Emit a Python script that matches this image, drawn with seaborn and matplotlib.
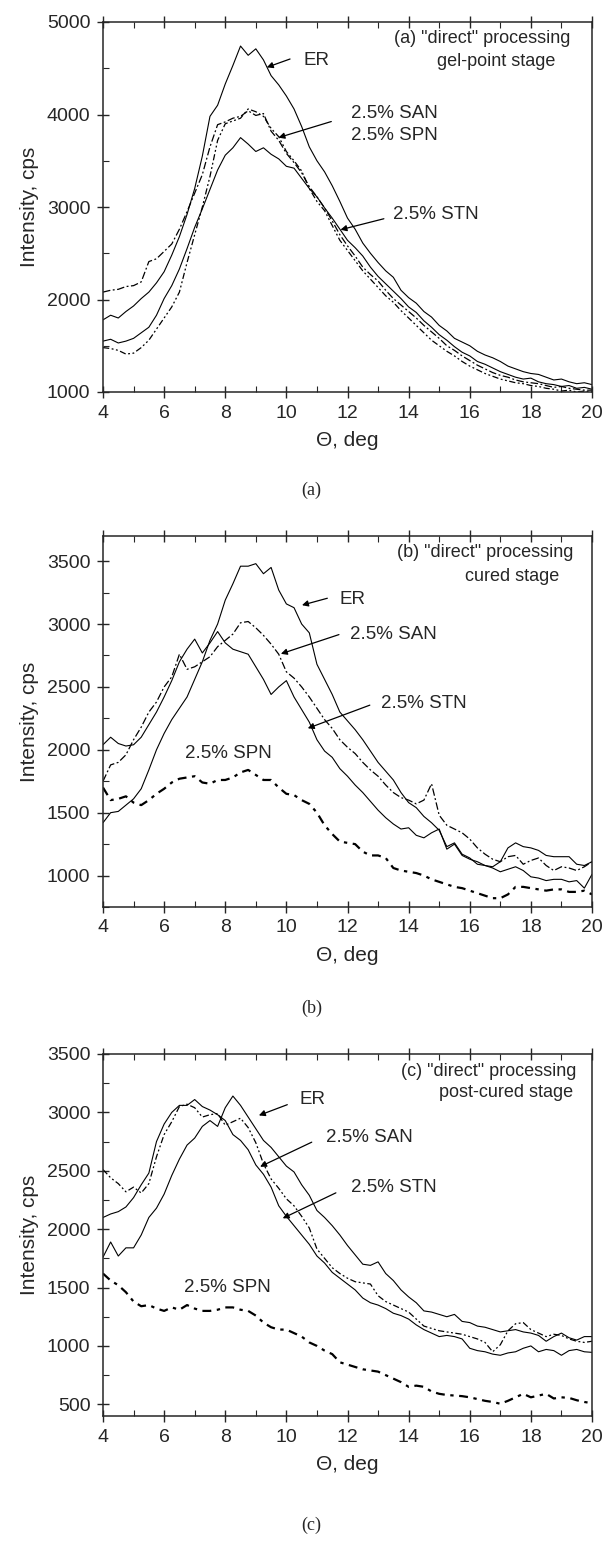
import numpy as np
import matplotlib
matplotlib.use("Agg")
import matplotlib.pyplot as plt
from matplotlib.ticker import MultipleLocator
import seaborn as sns

sns.set_style("ticks")
plt.rcParams['font.family'] = ['Liberation Sans', 'DejaVu Sans']

theta = np.arange(4.0, 20.001, 0.25)

# ---------- panel (a): gel-point stage ----------
a_ER = [1780, 1830, 1800, 1870, 1930, 2010, 2080, 2180, 2300, 2480, 2680, 2920,
        3200, 3550, 3980, 4100, 4330, 4530, 4740, 4640, 4710, 4590, 4420, 4320,
        4200, 4060, 3870, 3650, 3500, 3380, 3230, 3060, 2880, 2760, 2610, 2500,
        2400, 2310, 2240, 2100, 2020, 1960, 1870, 1810, 1720, 1660, 1580, 1540,
        1500, 1440, 1400, 1370, 1330, 1280, 1250, 1220, 1200, 1190, 1160, 1130,
        1140, 1110, 1090, 1100, 1080]
a_STN = [1550, 1570, 1530, 1550, 1580, 1640, 1700, 1830, 2010, 2150, 2330, 2550,
         2780, 2980, 3190, 3400, 3560, 3640, 3750, 3680, 3600, 3640, 3570, 3520,
         3440, 3420, 3310, 3200, 3110, 2990, 2880, 2760, 2640, 2560, 2470, 2350,
         2250, 2170, 2090, 2010, 1920, 1860, 1770, 1700, 1620, 1560, 1490, 1430,
         1390, 1330, 1300, 1260, 1220, 1190, 1160, 1140, 1150, 1110, 1090, 1080,
         1060, 1070, 1040, 1050, 1030]
a_SAN = [2080, 2100, 2110, 2140, 2150, 2190, 2410, 2440, 2520, 2600, 2760, 2950,
         3150, 3350, 3650, 3890, 3920, 3960, 3980, 4040, 3990, 4010, 3820, 3720,
         3580, 3480, 3370, 3220, 3110, 2990, 2850, 2700, 2580, 2470, 2350, 2270,
         2200, 2100, 2010, 1940, 1870, 1800, 1720, 1650, 1580, 1500, 1450, 1390,
         1340, 1290, 1250, 1210, 1180, 1160, 1130, 1110, 1100, 1090, 1070, 1050,
         1060, 1040, 1030, 1020, 1020]
a_SPN = [1480, 1470, 1450, 1410, 1420, 1480, 1560, 1680, 1800, 1920, 2080, 2400,
         2700, 3000, 3330, 3720, 3900, 3930, 3960, 4060, 4030, 3980, 3850, 3760,
         3600, 3500, 3390, 3200, 3060, 2960, 2800, 2640, 2530, 2420, 2310, 2220,
         2130, 2040, 1970, 1880, 1800, 1720, 1640, 1560, 1500, 1440, 1390, 1330,
         1280, 1240, 1200, 1170, 1140, 1120, 1100, 1090, 1070, 1060, 1040, 1030,
         1010, 1020, 1000, 1010, 1000]

# ---------- panel (b): cured stage ----------
b_ER = [1420, 1500, 1510, 1560, 1610, 1690, 1840, 2000, 2130, 2240, 2330, 2420,
        2560, 2700, 2870, 3000, 3190, 3320, 3460, 3460, 3480, 3400, 3450, 3270,
        3160, 3130, 3000, 2930, 2680, 2560, 2440, 2300, 2230, 2160, 2080, 1990,
        1900, 1830, 1760, 1660, 1580, 1540, 1470, 1420, 1360, 1230, 1260, 1170,
        1140, 1090, 1080, 1070, 1110, 1220, 1260, 1230, 1220, 1200, 1160, 1150,
        1150, 1150, 1090, 1080, 1110]
b_STN = [2040, 2100, 2050, 2030, 2040, 2100, 2200, 2300, 2420, 2550, 2700, 2800,
         2880, 2770, 2850, 2940, 2850, 2800, 2780, 2760, 2660, 2560, 2440, 2500,
         2550, 2420, 2320, 2220, 2080, 1990, 1940, 1850, 1790, 1720, 1660, 1590,
         1520, 1460, 1410, 1370, 1380, 1320, 1300, 1340, 1370, 1210, 1250, 1160,
         1130, 1110, 1080, 1060, 1030, 1050, 1070, 1040, 990, 980, 960, 970,
         970, 950, 960, 900, 1010]
b_SAN = [1750, 1880, 1900, 1960, 2080, 2180, 2300, 2380, 2500, 2580, 2760, 2640,
         2660, 2700, 2740, 2820, 2870, 2920, 3010, 3020, 2970, 2910, 2840, 2760,
         2620, 2570, 2500, 2420, 2330, 2240, 2170, 2080, 2020, 1970, 1900, 1840,
         1790, 1720, 1660, 1620, 1600, 1570, 1600, 1730, 1480, 1400, 1370, 1340,
         1290, 1220, 1170, 1130, 1110, 1150, 1160, 1090, 1120, 1140, 1080, 1040,
         1070, 1060, 1040, 1070, 1110]
b_SPN = [1700, 1600, 1610, 1630, 1580, 1560, 1600, 1650, 1690, 1740, 1770, 1780,
         1790, 1740, 1730, 1760, 1760, 1780, 1820, 1840, 1800, 1760, 1760, 1700,
         1650, 1640, 1600, 1570, 1500, 1400, 1330, 1270, 1260, 1250, 1190, 1160,
         1160, 1140, 1060, 1040, 1030, 1020, 1000, 970, 950, 930, 910, 900,
         880, 860, 840, 820, 820, 850, 910, 910, 900, 890, 880, 890,
         890, 870, 870, 880, 850]

# ---------- panel (c): post-cured stage ----------
c_ER = [1760, 1890, 1770, 1840, 1840, 1950, 2100, 2180, 2300, 2460, 2600, 2720,
        2780, 2880, 2930, 2880, 3040, 3140, 3060, 2960, 2860, 2760, 2700, 2620,
        2540, 2490, 2380, 2290, 2160, 2100, 2030, 1950, 1860, 1780, 1700, 1690,
        1720, 1620, 1560, 1480, 1420, 1370, 1300, 1290, 1270, 1250, 1270, 1210,
        1200, 1170, 1160, 1140, 1120, 1130, 1140, 1120, 1110, 1090, 1040, 1080,
        1110, 1070, 1050, 1080, 1080]
c_STN = [2100, 2130, 2150, 2190, 2270, 2380, 2480, 2750, 2900, 3000, 3060, 3060,
         3110, 3050, 3020, 2980, 2930, 2810, 2760, 2680, 2550, 2470, 2360, 2200,
         2110, 2030, 1950, 1870, 1770, 1710, 1630, 1580, 1530, 1480, 1410, 1370,
         1350, 1320, 1280, 1260, 1230, 1180, 1140, 1110, 1080, 1090, 1080, 1060,
         980, 960, 950, 930, 920, 940, 950, 980, 1000, 950, 970, 960,
         920, 960, 970, 950, 945]
c_SAN = [2510, 2440, 2390, 2320, 2360, 2310, 2390, 2620, 2810, 2920, 3050, 3070,
         3040, 2960, 2980, 2990, 2890, 2920, 2950, 2870, 2740, 2560, 2430, 2350,
         2260, 2200, 2110, 2010, 1830, 1750, 1670, 1620, 1580, 1550, 1540, 1530,
         1430, 1380, 1350, 1320, 1290, 1230, 1170, 1150, 1130, 1120, 1110, 1100,
         1080, 1060, 1030, 950, 1010, 1130, 1190, 1200, 1140, 1110, 1080, 1100,
         1090, 1060, 1040, 1030, 1040]
c_SPN = [1620, 1560, 1520, 1460, 1380, 1340, 1350, 1320, 1300, 1330, 1310, 1350,
         1320, 1300, 1300, 1310, 1330, 1330, 1310, 1300, 1260, 1200, 1160, 1140,
         1140, 1110, 1080, 1030, 1000, 960, 930, 860, 840, 820, 800, 790,
         780, 750, 720, 690, 650, 660, 650, 610, 590, 580, 575, 570,
         560, 545, 530, 520, 505, 530, 560, 590, 560, 575, 590, 550,
         560, 555, 535, 520, 510]

panel_titles = ['(a) "direct" processing', '(b) "direct" processing', '(c) "direct" processing']
panel_subtitles = ['gel-point stage', 'cured stage', 'post-cured stage']
captions = ['(a)', '(b)', '(c)']
ylims = [(1000, 5000), (750, 3700), (400, 3500)]
ymajor = [1000, 500, 500]
yminor = [500, 250, 250]

DASHDOT = (0, (6, 2, 1.5, 2))
DASHDOTDOT = (0, (5, 2, 1.5, 2, 1.5, 2))
HEAVY = (0, (4, 2.5, 1.5, 2.5))

panels = [
    [(a_ER, '-', 0.8), (a_STN, '-', 0.8), (a_SAN, DASHDOT, 0.9), (a_SPN, DASHDOTDOT, 0.9)],
    [(b_ER, '-', 0.8), (b_STN, '-', 0.8), (b_SAN, DASHDOT, 0.9), (b_SPN, HEAVY, 1.6)],
    [(c_ER, '-', 0.8), (c_STN, '-', 0.8), (c_SAN, DASHDOTDOT, 0.9), (c_SPN, HEAVY, 1.6)],
]

# annotations: (text, text_xy, arrow_tail, arrow_tip)
annots = [
    [("ER", (10.97, 4580), (10.12, 4600), (9.36, 4510)),
     ("2.5% SAN\n2.5% SPN", (13.55, 3890), (11.47, 3924), (9.74, 3750)),
     ("2.5% STN", (14.9, 2920), (13.19, 2873), (11.77, 2754))],
    [("ER", (12.16, 3197), (11.34, 3205), (10.51, 3150)),
     ("2.5% SAN", (13.51, 2916), (11.72, 2916), (9.82, 2763)),
     ("2.5% STN", (14.5, 2368), (12.73, 2355), (10.7, 2171)),
     ("2.5% SPN", (8.11, 1974), None, None)],
    [("ER", (10.86, 3108), (10.03, 3066), (9.1, 2974)),
     ("2.5% SAN", (12.7, 2781), (10.83, 2745), (9.14, 2535)),
     ("2.5% STN", (13.52, 2353), (11.62, 2311), (9.88, 2093)),
     ("2.5% SPN", (8.06, 1500), None, None)],
]
title_pos = [((16.42, 4819), (16.87, 4576)),
             ((16.5, 3566), (17.4, 3376)),
             ((16.63, 3346), (17.2, 3173))]

W, H = 605, 1545
fig = plt.figure(figsize=(W / 100, H / 100), dpi=100)
left = 103 / W
width = (592 - 103) / W
boxes = [(22, 392), (536, 907), (1054, 1416)]
cap_y = [490, 1008, 1525]

for i in range(3):
    top, bot = boxes[i]
    ax = fig.add_axes([left, 1 - bot / H, width, (bot - top) / H])
    for vals, ls, lw in panels[i]:
        sns.lineplot(x=theta, y=vals, ax=ax, color='black', linewidth=lw, linestyle=ls)
    ax.set_xlim(4, 20)
    ax.set_ylim(*ylims[i])
    ax.xaxis.set_major_locator(MultipleLocator(2))
    ax.xaxis.set_minor_locator(MultipleLocator(1))
    ax.yaxis.set_major_locator(MultipleLocator(ymajor[i]))
    ax.yaxis.set_minor_locator(MultipleLocator(yminor[i]))
    for s in ax.spines.values():
        s.set_linewidth(1.1)
        s.set_visible(True)
    ax.tick_params(which='major', direction='inout', length=8, width=1.0,
                   labelsize=14, top=True, right=False, pad=5)
    ax.tick_params(which='minor', direction='in', length=4, width=0.8,
                   top=True, right=False)
    ax.tick_params(axis='x', which='both', top=True)
    ax.tick_params(axis='x', which='major', labeltop=False)
    ax.set_xlabel('Θ, deg', fontsize=15, labelpad=7)
    ax.set_ylabel('Intensity, cps', fontsize=15, labelpad=6)

    (t1, t2) = title_pos[i]
    ax.text(t1[0], t1[1], panel_titles[i], ha='center', va='center', fontsize=13)
    ax.text(t2[0], t2[1], panel_subtitles[i], ha='center', va='center', fontsize=13)
    for txt, txy, tail, tip in annots[i]:
        ax.text(txy[0], txy[1], txt, ha='center', va='center', fontsize=13.5,
                linespacing=1.35)
        if tail is not None:
            ax.annotate('', xy=tip, xytext=tail,
                        arrowprops=dict(arrowstyle='-|>', color='black', lw=0.9,
                                        mutation_scale=9, shrinkA=0, shrinkB=0))
    fig.text(0.515, 1 - cap_y[i] / H, captions[i], ha='center', va='center',
             fontsize=13, family='Liberation Serif')

fig.savefig('out.png', dpi=100, facecolor='white')
